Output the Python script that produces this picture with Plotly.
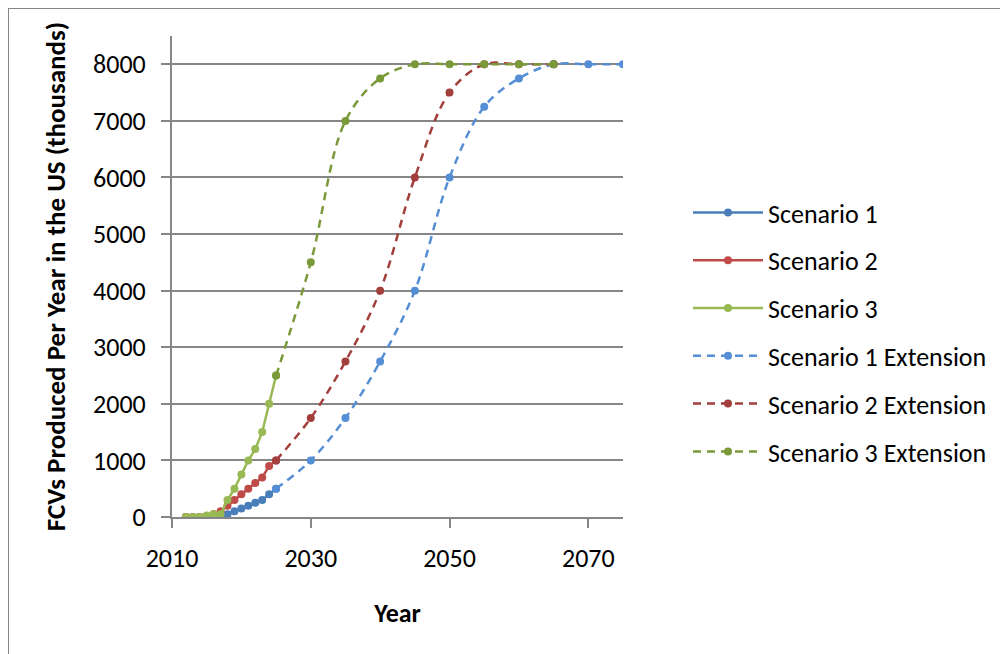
import plotly.graph_objects as go

# ---- data ----
years_early = list(range(2012, 2026))
scenario1 = [0, 0, 0, 0, 0, 0, 50, 100, 150, 200, 250, 300, 400, 500]
scenario2 = [0, 0, 0, 0, 50, 100, 200, 300, 400, 500, 600, 700, 900, 1000]
scenario3 = [0, 0, 0, 25, 50, 50, 300, 500, 750, 1000, 1200, 1500, 2000, 2500]

years_ext1 = [2025, 2030, 2035, 2040, 2045, 2050, 2055, 2060, 2065, 2070, 2075]
ext1 = [500, 1000, 1750, 2750, 4000, 6000, 7250, 7750, 8000, 8000, 8000]
years_ext2 = [2025, 2030, 2035, 2040, 2045, 2050, 2055, 2060, 2065]
ext2 = [1000, 1750, 2750, 4000, 6000, 7500, 8000, 8000, 8000]
years_ext3 = [2025, 2030, 2035, 2040, 2045, 2050, 2055, 2060, 2065]
ext3 = [2500, 4500, 7000, 7750, 8000, 8000, 8000, 8000, 8000]

x_ticks = [2010, 2030, 2050, 2070]
y_ticks = [0, 1000, 2000, 3000, 4000, 5000, 6000, 7000, 8000]

FONT = "Calibri, Carlito, Lato, sans-serif"
c1, c2, c3 = "#4A7EBB", "#BE4B48", "#98B954"
e1, e2, e3 = "#558ED5", "#A23F3C", "#7A9A3A"

fig = go.Figure()
series = [
    ("Scenario 1", years_early, scenario1, c1, "solid", "linear"),
    ("Scenario 2", years_early, scenario2, c2, "solid", "linear"),
    ("Scenario 3", years_early, scenario3, c3, "solid", "linear"),
    ("Scenario 1 Extension", years_ext1, ext1, e1, "8px,6px", "spline"),
    ("Scenario 2 Extension", years_ext2, ext2, e2, "8px,6px", "spline"),
    ("Scenario 3 Extension", years_ext3, ext3, e3, "8px,6px", "spline"),
]
for i, (name, xs, ys, col, dash, shape) in enumerate(series):
    line = dict(color=col, width=2.5, dash=dash, shape=shape)
    if shape == "spline":
        line["smoothing"] = 1.0
    fig.add_trace(go.Scatter(
        x=xs, y=ys, name=name, mode="lines+markers",
        line=line, marker=dict(color=col, size=8, symbol="circle"),
        legendgroup=f"g{i}",
    ))

W, H = 1008, 654
OFF = 8  # page body margin
L, T = 172 - OFF, 36 - OFF
R = W - (623 - OFF)
B = H - (517 - OFF)
pw, ph = W - L - R, H - T - B

def px_x(p):  # screen px -> paper
    return (p - OFF - L) / pw

def px_y(p):
    return (H - B - (p - OFF)) / ph

axis_color = "#868686"
fig.update_layout(
    width=W, height=H,
    margin=dict(l=L, r=R, t=T, b=B, autoexpand=False),
    paper_bgcolor="white", plot_bgcolor="white",
    font=dict(family=FONT, size=26, color="#000000"),
    showlegend=True,
    legend=dict(
        x=px_x(688), y=px_y(189), xanchor="left", yanchor="top",
        font=dict(family=FONT, size=26, color="#000000"),
        itemwidth=70, tracegroupgap=11, bgcolor="rgba(0,0,0,0)",
    ),
    xaxis=dict(
        range=[2010, 2075], tickvals=x_ticks, ticktext=[str(v) for v in x_ticks],
        showgrid=False, zeroline=False, showline=True, linecolor=axis_color, linewidth=2,
        ticks="outside", ticklen=9, tickwidth=2, tickcolor=axis_color,
        ticklabelstandoff=8,
        tickfont=dict(family=FONT, size=26),
        title=dict(text="<b>Year</b>", font=dict(family=FONT, size=26), standoff=31),
    ),
    yaxis=dict(
        range=[0, 8500], tickvals=y_ticks, ticktext=[str(v) for v in y_ticks],
        showgrid=True, gridcolor=axis_color, gridwidth=2,
        zeroline=False, showline=True, linecolor=axis_color, linewidth=2,
        ticks="outside", ticklen=9, tickwidth=2, tickcolor=axis_color,
        ticklabelstandoff=10,
        tickfont=dict(family=FONT, size=26),
        title=dict(text="<b>FCVs Produced Per Year in the US (thousands)</b>",
                   font=dict(family=FONT, size=27), standoff=20),
    ),
)

# chart-area border
fig.add_shape(type="rect", xref="paper", yref="paper",
              x0=px_x(8), x1=px_x(1030), y0=px_y(680), y1=px_y(8),
              line=dict(color=axis_color, width=2), fillcolor="rgba(0,0,0,0)", layer="below")

fig.write_html("out.html")
